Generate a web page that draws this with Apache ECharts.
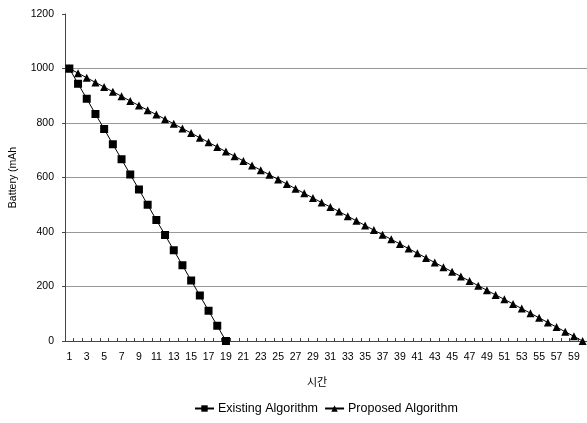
<!DOCTYPE html>
<html><head><meta charset="utf-8">
<script src="https://cdn.jsdelivr.net/npm/echarts@6/dist/echarts.min.js"></script>
<style>html,body{margin:0;padding:0;background:#fff}#c{width:587px;height:423px}</style>
</head><body><div id="c"></div>
<script>
const categories = ['1','2','3','4','5','6','7','8','9','10','11','12','13','14','15','16','17','18','19','20',
'21','22','23','24','25','26','27','28','29','30','31','32','33','34','35','36','37','38','39','40',
'41','42','43','44','45','46','47','48','49','50','51','52','53','54','55','56','57','58','59','60'];
const existing = [1000,944,889,833,778,722,667,611,556,500,444,389,333,278,222,167,111,56,0];
const proposed = [1000,983,966,949,932,915,898,881,864,847,831,814,797,780,763,746,729,712,695,678,
661,644,627,610,593,576,559,542,525,508,492,475,458,441,424,407,390,373,356,339,
322,305,288,271,254,237,220,203,186,169,153,136,119,102,85,68,51,34,17,0];
const yTicks = [0,200,400,600,800,1000,1200];
const seriesNames = ['Existing Algorithm','Proposed Algorithm'];

const font = 'Liberation Sans, Arial, sans-serif';
const chart = echarts.init(document.getElementById('c'), null, {renderer:'canvas'});
chart.setOption({
  backgroundColor:'#fff',
  animation:false,
  textStyle:{fontFamily:font},
  grid:{left:62, right:-5, top:14, bottom:82, containLabel:false},
  legend:{
    bottom:3, left:189, itemGap:6, itemWidth:19, itemHeight:8,
    textStyle:{fontFamily:font, fontSize:12.5, color:'#000', padding:[0,0,0,-1]},
    data:seriesNames
  },
  xAxis:{
    type:'category', data:categories, boundaryGap:true,
    name:'시간', nameLocation:'middle', nameGap:35,
    nameTextStyle:{fontFamily:'Noto Sans CJK KR', fontSize:11, color:'#000', padding:[0,18,0,0]},
    axisLine:{lineStyle:{color:'#444', width:1}},
    axisTick:{show:true, inside:true, length:3, interval:0, lineStyle:{color:'#444'}},
    axisLabel:{interval:1, color:'#000', fontSize:10.5, margin:11, fontFamily:font},
    splitLine:{show:false}
  },
  yAxis:{
    type:'value', min:yTicks[0], max:yTicks[yTicks.length-1], interval:200,
    name:'Battery (mAh', nameLocation:'middle', nameGap:46, nameRotate:90,
    nameTextStyle:{fontFamily:font, fontSize:10.5, color:'#000'},
    axisLine:{show:true, lineStyle:{color:'#444', width:1}},
    axisTick:{show:true, length:3, lineStyle:{color:'#444'}},
    axisLabel:{color:'#000', fontSize:10.5, margin:11, fontFamily:font, formatter:v=>String(v)},
    splitLine:{show:true, lineStyle:{color:['rgba(0,0,0,0)','#999','#999','#999','#999','#999','rgba(0,0,0,0)'], width:1}}
  },
  series:[
    {name:seriesNames[0], type:'line', data:existing, symbol:'rect', symbolSize:8, showAllSymbol:true,
     itemStyle:{color:'#000'}, lineStyle:{color:'#000', width:1}},
    {name:seriesNames[1], type:'line', data:proposed, symbol:'triangle', symbolSize:8, showAllSymbol:true,
     itemStyle:{color:'#000'}, lineStyle:{color:'#000', width:1}}
  ]
});
</script></body></html>
